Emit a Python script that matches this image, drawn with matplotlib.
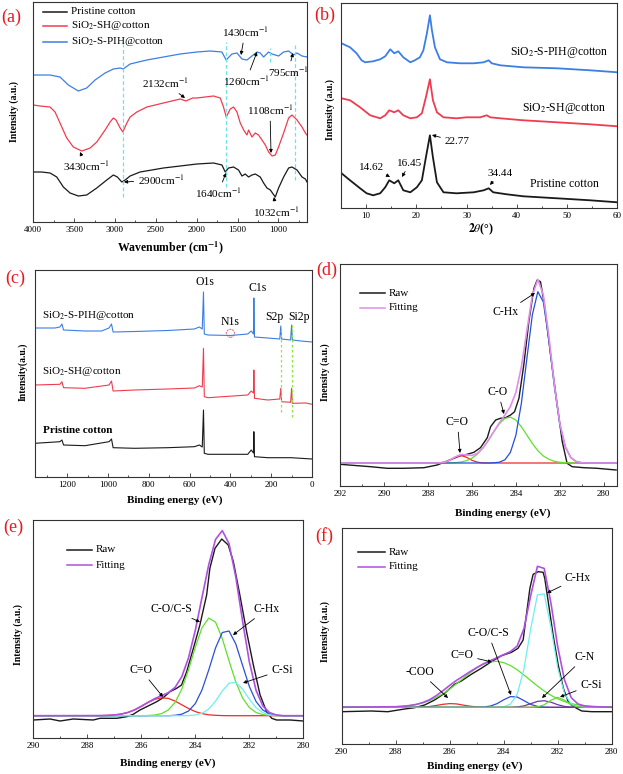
import numpy as np
import matplotlib
matplotlib.use('Agg')
import matplotlib.pyplot as plt
from matplotlib.ticker import MultipleLocator
from matplotlib.patches import Ellipse

plt.rcParams['font.family'] = 'Liberation Serif'
plt.rcParams['mathtext.fontset'] = 'stix'

# ---------------- data ----------------
# (a) FTIR
ftir_black_x = [4000, 3900, 3795, 3713, 3632, 3550, 3449, 3346, 3223, 3101, 3020, 2971, 2917, 2876, 2815, 2693,
                2407, 2202, 1998, 1794, 1691, 1651, 1610, 1549, 1488, 1446, 1406, 1365, 1324, 1283, 1222, 1181,
                1140, 1099, 1038, 998, 936, 875, 834, 772, 711, 670, 650]
ftir_black_y = [50, 50, 49, 45, 35, 29, 26, 27, 34, 42, 47, 45, 40, 42, 46, 50, 54, 56, 58, 59, 57, 50, 54, 55,
                52, 46, 48, 45, 47, 48, 45, 39, 34, 32, 25, 34, 45, 54, 55, 52, 45, 43, 40]
ftir_red_x = [4000, 3918, 3795, 3734, 3673, 3591, 3510, 3407, 3305, 3223, 3121, 3060, 3020, 2987, 2937, 2904,
              2855, 2815, 2733, 2610, 2407, 2202, 2132, 2050, 1998, 1794, 1712, 1672, 1638, 1589, 1549, 1507,
              1467, 1425, 1385, 1365, 1324, 1283, 1243, 1201, 1160, 1120, 1078, 1038, 998, 936, 875, 834, 772,
              711, 670, 650]
ftir_red_y = [117, 116, 115, 110, 99, 84, 75, 71, 74, 80, 92, 100, 104, 102, 94, 90, 99, 105, 110, 115, 119, 123,
              121, 124, 124, 126, 124, 115, 105, 113, 115, 110, 99, 92, 87, 92, 85, 89, 87, 82, 77, 70, 66, 67,
              75, 89, 104, 107, 102, 95, 89, 87]
ftir_blue_x = [4000, 3795, 3673, 3571, 3449, 3346, 3244, 3121, 3020, 2937, 2900, 2815, 2610, 2407, 2202, 1998,
               1835, 1691, 1640, 1569, 1507, 1446, 1385, 1324, 1262, 1222, 1181, 1120, 1078, 998, 936, 875, 814,
               772, 711, 650]
ftir_blue_y = [147, 147, 145, 137, 131, 134, 142, 149, 153, 154, 153, 158, 162, 165, 168, 170, 171, 170, 162, 168,
               169, 163, 162, 166, 170, 169, 165, 170, 168, 166, 170, 171, 167, 169, 166, 165]
ftir_marks = [2900, 1640, 1108, 795]

# (b) XRD
xrd_blue_x = [5.1, 6.8, 8.1, 9.1, 9.8, 11.4, 12.8, 13.8, 14.8, 15.6, 16.4, 17.4, 18.8, 19.7, 20.7, 21.4, 22.1,
              22.7, 23.1, 23.7, 24.7, 26.1, 28.7, 31.4, 33.4, 34.4, 35.0, 36.7, 41.3, 48.0, 54.6, 60.0]
xrd_blue_y = [165, 161, 155, 148, 146, 147, 149, 152, 159, 155, 157, 151, 146, 148, 151, 158, 175, 193, 178, 161,
              149, 146, 145, 145, 146, 148, 145, 143, 141, 140, 138, 136]
xrd_red_x = [5.1, 6.8, 8.8, 10.8, 12.8, 13.8, 14.6, 15.6, 16.4, 17.4, 18.8, 20.1, 21.1, 21.9, 22.7, 23.3, 24.1,
             25.4, 28.0, 30.0, 32.7, 34.0, 34.7, 36.7, 41.3, 48.0, 54.6, 60.0]
xrd_red_y = [110, 108, 101, 93, 90, 93, 98, 96, 98, 93, 90, 91, 95, 111, 129, 108, 96, 91, 90, 91, 91, 93, 91,
             90, 88, 86, 84, 82]
xrd_black_x = [5.1, 6.8, 8.8, 10.1, 11.4, 12.8, 13.8, 14.6, 15.6, 16.4, 17.4, 18.8, 20.1, 21.1, 21.9, 22.7, 23.3,
               24.1, 25.4, 28.0, 31.4, 33.4, 34.4, 35.3, 38.0, 41.3, 48.0, 54.6, 60.0]
xrd_black_y = [35, 28, 20, 15, 13, 15, 21, 28, 25, 28, 18, 16, 21, 28, 51, 73, 51, 26, 16, 15, 16, 18, 20, 16,
               14, 12, 10, 8, 6]

# (c) XPS survey
srv_blue_x = [1358, 1260, 1236, 1226, 1218, 1113, 1032, 995, 983, 975, 870, 707, 577, 552, 538, 532, 528, 510,
              400, 315, 298, 287, 285, 282, 217, 158, 153, 149, 105, 100, 96, 54, 0]
srv_blue_y = [149, 149, 150, 153, 147, 146, 146, 149, 153, 145, 145.5, 146.5, 148, 150, 148, 185, 143, 142, 141.5,
              143, 146, 143, 179, 140, 139, 138, 151, 138, 137, 152, 137, 136, 135]
srv_red_x = [1358, 1236, 1226, 1218, 1113, 995, 983, 975, 870, 707, 577, 552, 538, 532, 528, 510, 315, 298, 287,
             285, 282, 217, 158, 153, 149, 105, 100, 96, 30, 0]
srv_red_y = [92, 92.7, 95.3, 89.3, 88.7, 92, 96, 86, 87, 88, 89, 91.3, 90, 128.7, 80.3, 79.3, 82, 86, 84, 107,
             78.7, 77, 78, 88.7, 75.3, 74.7, 88.7, 73.7, 74, 72.7]
srv_black_x = [1358, 1236, 1226, 1218, 1113, 995, 983, 975, 870, 707, 577, 552, 538, 532, 528, 510, 315, 298,
               287, 285, 282, 217, 102, 0]
srv_black_y = [33.7, 35.3, 37, 32, 31.3, 35.3, 38, 29.3, 28.7, 29.3, 30.3, 32, 30, 67, 23.7, 22.7, 22.7, 27, 24,
               45.3, 20.3, 19.3, 19.3, 18]
srv_marks = [153, 100]

# (d) C1s pristine cotton
d_raw_x = [292, 290.61, 289.85, 289.09, 288.18, 287.58, 287.12, 286.82, 286.52, 286.21, 285.91, 285.61, 285.3,
           285.15, 284.92, 284.7, 284.47, 284.24, 284.06, 283.86, 283.64, 283.41, 283.18, 283.03, 282.88, 282.7,
           282.42, 282.12, 281.89, 281.67, 281.44, 280.91, 280.3, 279.44]
d_raw_y = [21.7, 19.3, 17.7, 17.7, 18.3, 21, 25, 27.7, 30.3, 31.7, 33.7, 38.3, 48.3, 59.3, 66, 67.7, 68.3, 71,
           74.3, 87.7, 121, 164.3, 197.7, 206, 204.3, 181, 131, 81, 44.3, 22.7, 19.3, 18.3, 17.7, 16]
d_x = [292, 288.5, 288.25, 288.0, 287.75, 287.5, 287.25, 287.0, 286.75, 286.5, 286.25, 286.0, 285.75, 285.5,
       285.25, 285.0, 284.75, 284.5, 284.25, 284.0, 283.75, 283.5, 283.25, 283.0, 282.75, 282.5, 282.25, 282.0,
       281.75, 281.5, 281.25, 281.0, 280.75, 280.5, 279.4]
d_base = 23
d_co2 = [23, 23, 23, 23, 23, 23.1, 23.8, 25.7, 28.8, 30.5, 28.8, 25.7, 23.8, 23.1, 23, 23, 23, 23, 23, 23, 23,
         23, 23, 23, 23, 23, 23, 23, 23, 23, 23, 23, 23, 23, 23]
d_co = [23, 23, 23, 23, 23, 23, 23, 23.2, 23.4, 24.0, 25.3, 27.8, 31.9, 37.9, 45.7, 54.4, 62.3, 67.6, 68.9, 65.9,
        59.3, 50.9, 42.5, 35.3, 30.0, 26.7, 24.7, 23.7, 23.3, 23.1, 23, 23, 23, 23, 23]
d_chx = [23, 23, 23, 23, 23, 23, 23, 23, 23, 23, 23, 23, 23, 23, 23, 23.2, 23.8, 26.2, 33.6, 50.7, 82.7, 127.4,
         171.3, 194.3, 184.0, 146.2, 99.7, 61.7, 38.9, 28.3, 24.4, 23.3, 23, 23, 23]

# (e) C1s SiO2-SH@cotton
e_raw_x = [290, 289.38, 289.01, 288.52, 287.78, 287.53, 286.91, 286.54, 286.3, 286.05, 285.8, 285.43, 285.19,
           284.94, 284.69, 284.51, 284.32, 284.07, 283.83, 283.58, 283.46, 283.27, 283.02, 282.78, 282.59, 282.35,
           282.1, 281.85, 281.6, 281.36, 281.17, 280.99, 280.49, 280.0]
e_raw_y = [17.7, 18.7, 16.7, 18.7, 17.7, 19.4, 19.4, 21, 23.4, 27.7, 31, 36, 40, 46, 49.4, 52.7, 66, 89.4, 112.7,
           142.7, 169.4, 189.4, 198.7, 192.7, 176, 142.7, 106, 72.7, 42.7, 26, 19.4, 17.7, 17.7, 16.7]
e_x = [290, 287.5, 287.25, 287.0, 286.75, 286.5, 286.25, 286.0, 285.75, 285.5, 285.25, 285.0, 284.75, 284.5,
       284.25, 284.0, 283.75, 283.5, 283.25, 283.0, 282.75, 282.5, 282.25, 282.0, 281.75, 281.5, 281.25, 281.0,
       280.75, 280.5, 280]
e_base = 22
e_co2 = [22, 22.1, 22.3, 22.7, 23.6, 25.2, 27.8, 31.4, 35.2, 38.4, 39.9, 39.3, 36.6, 32.9, 29.2, 26.1, 24.1, 22.9,
         22.4, 22.1, 22, 22, 22, 22, 22, 22, 22, 22, 22, 22, 22]
e_cocs = [22, 22, 22, 22, 22, 22, 22, 22, 22.2, 22.7, 24.1, 27.7, 35.3, 48.6, 68, 90.5, 110.1, 119.7, 115.5, 99.1,
          76.8, 55.7, 39.8, 30.2, 25.2, 23.1, 22.3, 22, 22, 22, 22]
e_chx = [22, 22, 22, 22, 22, 22, 22, 22, 22, 22, 22, 22, 22.4, 23.5, 26.7, 34.1, 47.9, 67.9, 89.8, 105.2, 106.7,
         93.7, 72.4, 51.3, 36.2, 27.7, 23.9, 22.5, 22, 22, 22]
e_csi = [22, 22, 22, 22, 22, 22, 22, 22, 22, 22, 22, 22, 22, 22, 22.1, 22.7, 24.4, 28.7, 36.6, 46.7, 54.5, 55.3,
         48.6, 38.6, 30, 25, 22.9, 22.2, 22, 22, 22]

# (f) C1s SiO2-S-PIH@cotton
f_raw_x = [290, 288.91, 288.29, 287.67, 287.3, 286.93, 286.56, 286.19, 285.82, 285.57, 285.2, 284.83, 284.46,
           284.08, 283.71, 283.47, 283.28, 283.16, 283.03, 282.91, 282.72, 282.54, 282.48, 282.35, 282.17, 281.98,
           281.79, 281.61, 281.49, 281.3, 281.11, 280.74, 280]
f_raw_y = [32.6, 33.3, 32.6, 35.3, 36.6, 39.3, 44.3, 51, 60, 63.3, 70, 76, 82.6, 88.6, 92, 96, 104.3, 129.3, 156,
           170, 172.6, 172, 166, 142.6, 109.3, 79.3, 56, 42.6, 39.3, 36, 33.3, 32.6, 32.6]
f_x = [290, 288.0, 287.75, 287.5, 287.25, 287.0, 286.75, 286.5, 286.25, 286.0, 285.75, 285.5, 285.25, 285.0,
       284.75, 284.5, 284.25, 284.0, 283.75, 283.5, 283.25, 283.0, 282.75, 282.5, 282.25, 282.0, 281.75, 281.5,
       281.25, 281.0, 280.75, 280.5, 280]
f_base = 37
f_coo = [37, 37, 37, 37, 37, 37.2, 37.8, 38.8, 40, 40.7, 40.4, 39.2, 38.1, 37.4, 37.1, 37, 37, 37, 37, 37, 37, 37,
         37, 37, 37, 37, 37, 37, 37, 37, 37, 37, 37]
f_co2 = [37, 37.6, 38, 38.7, 39.8, 41.5, 43.7, 46.8, 50.6, 55.2, 60.5, 66, 71.5, 76.3, 80.1, 82.4, 83, 81.7, 78.8,
         74.5, 69.3, 63.8, 58.3, 53.3, 49, 45.5, 42.7, 40.7, 39.3, 38.4, 37.8, 37.5, 37]
f_cocs = [37, 37, 37, 37, 37, 37, 37, 37, 37, 37, 37, 37, 37, 37, 37.3, 38.2, 40.6, 44.5, 47.7, 47.3, 43.7, 39.9,
          37.9, 37.2, 37, 37, 37, 37, 37, 37, 37, 37, 37]
f_chx = [37, 37, 37, 37, 37, 37, 37, 37, 37, 37, 37, 37, 37, 37, 37, 37, 37, 37.5, 40.2, 50.1, 75.3, 115.4, 149.5,
         150.3, 117, 76.6, 50.8, 40.3, 37.6, 37, 37, 37, 37]
f_cn = [37, 37, 37, 37, 37, 37, 37, 37, 37, 37, 37, 37, 37, 37, 37, 37, 37, 37, 37, 37.4, 38.4, 40.6, 42.9, 43.6,
        42.1, 39.6, 37.9, 37.2, 37, 37, 37, 37, 37]
f_csi = [37, 37, 37, 37, 37, 37, 37, 37, 37, 37, 37, 37, 37, 37, 37, 37, 37, 37, 37, 37, 37, 37, 37.4, 39.5, 44.1,
         47, 44.1, 39.5, 37.4, 37, 37, 37, 37]

# ---------------- styling ----------------
BLACK, RED, BLUE = '#1a1a1a', '#f03c50', '#3c7fe2'
LETTER = '#e8191e'
W, H = 623, 774
fig = plt.figure(figsize=(W / 100, H / 100), dpi=100)


def add_panel(l, t, r, b):
    ax = fig.add_axes([l / W, 1 - b / H, (r - l) / W, (b - t) / H])
    for s in ax.spines.values():
        s.set_linewidth(0.8)
        s.set_color('#333333')
    ax.tick_params(axis='x', which='both', direction='in', top=False, labelsize=6.5, pad=3,
                   width=0.6, color='#333333')
    ax.tick_params(axis='x', which='major', length=3)
    ax.tick_params(axis='x', which='minor', length=1.8)
    ax.tick_params(axis='y', which='both', left=False, labelleft=False)
    return ax


def label(x, y, s, ha='center', **kw):
    fig.text(x / W, 1 - y / H, s, ha=ha, va='center', **kw)


def note(ax, s, tx, ty, hx, hy, size=8):
    ax.annotate(s, xy=(hx, H - hy), xycoords='figure pixels', xytext=(tx, H - ty),
                textcoords='figure pixels', ha='center', va='center', fontsize=size,
                arrowprops=dict(arrowstyle='-|>', color='k', lw=0.6, mutation_scale=5,
                                shrinkA=1, shrinkB=0),
                annotation_clip=False)


def key(x0, x1, y, color, s, size=8):
    fig.add_artist(plt.Line2D([x0 / W, x1 / W], [1 - y / H] * 2, color=color, lw=1.1,
                              transform=fig.transFigure))
    label(x1 + 4, y, s, ha='left', fontsize=size)


def fit_sum(base, *comps):
    total = np.full(len(comps[0]), float(base))
    for c in comps:
        total += np.asarray(c) - base
    return total


bold = dict(fontweight='bold')

# ---------------- (a) FTIR ----------------
ax = add_panel(33.3, 1.5, 307, 222)
ax.plot(ftir_black_x, ftir_black_y, color=BLACK, lw=0.9)
ax.plot(ftir_red_x, ftir_red_y, color=RED, lw=0.9)
ax.plot(ftir_blue_x, ftir_blue_y, color=BLUE, lw=0.9)
for w, lo, hi in zip(ftir_marks, [25, 35, 160, 42], [178, 180, 174, 177]):
    ax.vlines(w, lo, hi, color='#6ae4e4', lw=0.9, linestyles=(0, (3, 2)))
ax.set_xlim(4000, 650)
ax.set_ylim(0, 220.5)
ax.xaxis.set_major_locator(MultipleLocator(500))
ax.xaxis.set_minor_locator(MultipleLocator(250))
key(43, 67, 12, BLACK, 'Pristine cotton')
key(43, 67, 26, RED, 'SiO$_2$-SH@cotton')
key(43, 67, 42, BLUE, 'SiO$_2$-S-PIH@cotton')
note(ax, '1430cm$^{-1}$', 245, 32, 241, 55)
note(ax, '1260cm$^{-1}$', 246, 81, 257, 52)
note(ax, '795cm$^{-1}$', 288, 72, 293, 53)
note(ax, '2132cm$^{-1}$', 165, 83, 185, 98)
note(ax, '1108cm$^{-1}$', 270, 110, 271, 153)
note(ax, '3430cm$^{-1}$', 86, 166, 80, 152)
note(ax, '2900cm$^{-1}$', 161, 180, 124, 182)
note(ax, '1640cm$^{-1}$', 218, 193, 226, 173)
note(ax, '1032cm$^{-1}$', 276, 212, 274, 197)
label(170, 248, 'Wavenumber (cm$^{\\mathbf{-1}}$)', fontsize=8.5, **bold)
label(14, 112, 'Intensity (a.u.)', rotation=90, fontsize=7, **bold)
label(11, 17, '(a)', fontsize=13, color=LETTER)

# ---------------- (b) XRD ----------------
ax = add_panel(341, 3, 617.3, 208.3)
ax.plot(xrd_black_x, xrd_black_y, color=BLACK, lw=1.3)
ax.plot(xrd_red_x, xrd_red_y, color=RED, lw=1.3)
ax.plot(xrd_blue_x, xrd_blue_y, color=BLUE, lw=1.3)
ax.set_xlim(5, 60)
ax.set_ylim(0, 205.3)
ax.xaxis.set_major_locator(MultipleLocator(10))
ax.xaxis.set_minor_locator(MultipleLocator(5))
label(559, 52, 'SiO$_2$-S-PIH@cotton', fontsize=8.5)
label(564, 108, 'SiO$_2$-SH@cotton', fontsize=8.5)
label(564, 184, 'Pristine cotton', fontsize=8.5)
note(ax, '22.77', 457, 142, 432, 135)
note(ax, '14.62', 372, 167, 390, 177)
note(ax, '16.45', 410, 163, 402, 177)
note(ax, '34.44', 500, 173, 490, 185)
label(481, 229, r'$\mathbf{2}\mathit{\theta}$(°)', fontsize=8.5, **bold)
label(330, 110, 'Intensity (a.u.)', rotation=90, fontsize=7, **bold)
label(325, 15, '(b)', fontsize=13, color=LETTER)

# ---------------- (c) XPS survey ----------------
ax = add_panel(35, 270, 312, 477)
ax.plot(srv_black_x, srv_black_y, color=BLACK, lw=0.8)
ax.plot(srv_red_x, srv_red_y, color=RED, lw=0.8)
ax.plot(srv_blue_x, srv_blue_y, color=BLUE, lw=0.8)
for e, lo, hi in zip(srv_marks, [65, 60], [150, 152]):
    ax.vlines(e, lo, hi, color='#8aea3c', lw=0.9, linestyles=(0, (2, 2)))
ax.add_patch(Ellipse((400, 143.7), 40, 8, fill=False, ec='#ee5a7a', lw=0.7, ls=(0, (2, 1))))
ax.set_xlim(1358, 0)
ax.set_ylim(0, 207)
ax.xaxis.set_major_locator(MultipleLocator(200))
ax.xaxis.set_minor_locator(MultipleLocator(100))
label(205, 282, 'O1s', fontsize=8.5)
label(257.5, 288, 'C1s', fontsize=8.5)
label(230, 322, 'N1s', fontsize=8.5)
label(274, 317, 'S2p', fontsize=8.5)
label(299, 317, 'Si2p', fontsize=8.5)
label(42, 315, 'SiO$_2$-S-PIH@cotton', ha='left', fontsize=8)
label(42, 371, 'SiO$_2$-SH@cotton', ha='left', fontsize=8)
label(43, 431, 'Pristine cotton', ha='left', fontsize=8, **bold)
label(175, 500, 'Binding energy (eV)', fontsize=8, **bold)
label(23, 372, 'Intensity(a.u.)', rotation=90, fontsize=7, **bold)
label(15, 278, '(c)', fontsize=13, color=LETTER)

# ---------------- (d) C1s pristine ----------------
ax = add_panel(340, 264, 617, 486)
ax.plot(d_raw_x, d_raw_y, color=BLACK, lw=1.0)
ax.plot(d_x, d_co2, color='#f02a2a', lw=0.9)
ax.plot(d_x, d_co, color='#5fe02c', lw=0.9)
ax.plot(d_x, d_chx, color='#2050e0', lw=0.9)
ax.plot(d_x, fit_sum(d_base, d_co2, d_co, d_chx), color='#e08ee8', lw=1.2)
ax.set_xlim(292, 279.4)
ax.set_ylim(0, 222)
ax.xaxis.set_major_locator(MultipleLocator(2))
ax.xaxis.set_minor_locator(MultipleLocator(1))
key(360, 385, 293.3, BLACK, 'Raw')
key(360, 385, 307.7, '#e08ee8', 'Fitting')
note(ax, 'C-Hx', 506, 312, 535, 293, size=8.5)
note(ax, 'C-O', 498, 392, 504, 414, size=8.5)
note(ax, 'C=O', 457.5, 422, 460, 453, size=8.5)
label(503, 513, 'Binding energy (eV)', fontsize=8, **bold)
label(325, 372, 'Inensity (a.u.)', rotation=90, fontsize=7, **bold)
label(327, 270, '(d)', fontsize=13, color=LETTER)

# ---------------- (e) C1s SiO2-SH ----------------
ax = add_panel(33.3, 520, 303.3, 737.7)
ax.plot(e_raw_x, e_raw_y, color=BLACK, lw=1.0)
ax.plot(e_x, e_co2, color='#f02a2a', lw=0.9)
ax.plot(e_x, e_cocs, color='#5fe02c', lw=0.9)
ax.plot(e_x, e_chx, color='#2a4fd8', lw=0.9)
ax.plot(e_x, e_csi, color='#70eeee', lw=0.9)
ax.plot(e_x, fit_sum(e_base, e_co2, e_cocs, e_chx, e_csi), color='#b050e0', lw=1.2)
ax.set_xlim(290, 280)
ax.set_ylim(0, 217.7)
ax.xaxis.set_major_locator(MultipleLocator(2))
ax.xaxis.set_minor_locator(MultipleLocator(1))
key(66.7, 91.7, 550, BLACK, 'Raw')
key(66.7, 91.7, 565, '#b050e0', 'Fitting')
note(ax, 'C=O', 141, 670, 163, 697, size=8.5)
note(ax, 'C-O/C-S', 171, 609, 200, 622, size=8.5)
note(ax, 'C-Hx', 267, 609, 233, 635, size=8.5)
note(ax, 'C-Si', 282, 670, 243, 683, size=8.5)
label(168, 763, 'Binding energy (eV)', fontsize=8, **bold)
label(18, 635, 'Intensity (a.u.)', rotation=90, fontsize=7, **bold)
label(13, 527, '(e)', fontsize=13, color=LETTER)

# ---------------- (f) C1s SiO2-S-PIH ----------------
ax = add_panel(341.7, 528.3, 611.7, 744.3)
ax.plot(f_raw_x, f_raw_y, color=BLACK, lw=1.0)
ax.plot(f_x, f_coo, color='#f02a2a', lw=0.9)
ax.plot(f_x, f_co2, color='#5fe02c', lw=0.9)
ax.plot(f_x, f_cocs, color='#2a4fd8', lw=0.9)
ax.plot(f_x, f_chx, color='#70eeee', lw=0.9)
ax.plot(f_x, f_cn, color='#6a3aa8', lw=0.9)
ax.plot(f_x, f_csi, color='#5fe02c', lw=0.9)
ax.plot(f_x, fit_sum(f_base, f_coo, f_co2, f_cocs, f_chx, f_cn, f_csi), color='#b050e0', lw=1.2)
ax.set_xlim(290, 280)
ax.set_ylim(0, 216)
ax.xaxis.set_major_locator(MultipleLocator(2))
ax.xaxis.set_minor_locator(MultipleLocator(1))
key(358, 385, 552.3, BLACK, 'Raw')
key(358, 385, 566.7, '#b050e0', 'Fitting')
note(ax, 'C-Hx', 578, 578, 547, 593, size=8.5)
note(ax, 'C-O/C-S', 488, 633, 511, 695, size=8.5)
note(ax, 'C=O', 462, 655, 492, 662, size=8.5)
note(ax, '-COO', 420, 672, 448, 698, size=8.5)
note(ax, 'C-N', 585, 657, 542, 698, size=8.5)
note(ax, 'C-Si', 591, 685, 560, 697, size=8.5)
label(475, 766, 'Binding energy (eV)', fontsize=8, **bold)
label(325, 632, 'Intensity (a.u.)', rotation=90, fontsize=7, **bold)
label(324, 536, '(f)', fontsize=13, color=LETTER)

fig.savefig('out.png', dpi=100)
